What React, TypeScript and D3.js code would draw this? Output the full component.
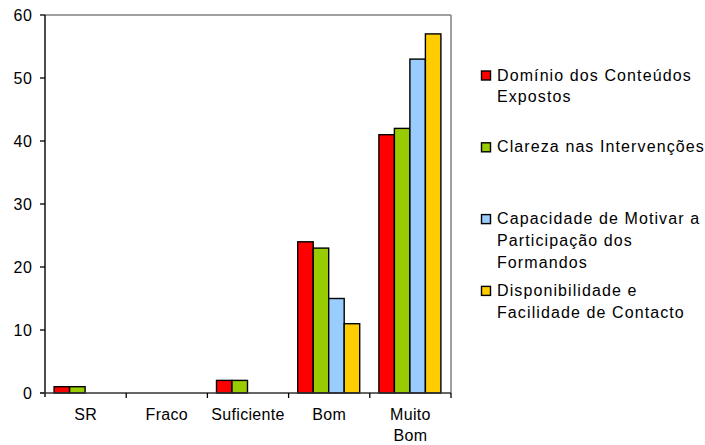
import React from "react";
import * as d3 from "d3";

const categories = ["SR", "Fraco", "Suficiente", "Bom", "Muito Bom"];
const seriesNames = [
  "Domínio dos Conteúdos Expostos",
  "Clareza nas Intervenções",
  "Capacidade de Motivar a Participação dos Formandos",
  "Disponibilidade e Facilidade de Contacto",
];
const legendLines = [
  ["Domínio dos Conteúdos", "Expostos"],
  ["Clareza nas Intervenções"],
  ["Capacidade de Motivar a", "Participação dos", "Formandos"],
  ["Disponibilidade e", "Facilidade de Contacto"],
];
const colors = ["#FF0000", "#99CC00", "#99CCFF", "#FFCC00"];
const dominio = [1, 0, 2, 24, 41];
const clareza = [1, 0, 2, 23, 42];
const capacidade = [0, 0, 0, 15, 53];
const disponibilidade = [0, 0, 0, 11, 57];
const values = [dominio, clareza, capacidade, disponibilidade];
const yTicks = [0, 10, 20, 30, 40, 50, 60];
const categoryLabels = [["SR"], ["Fraco"], ["Suficiente"], ["Bom"], ["Muito", "Bom"]];

const W = 705, H = 445;
const L = 45, R = 451, T = 15, B = 393;
const FONT = "'Liberation Sans', Arial, sans-serif";

export default function App() {
  const x0 = d3.scaleBand<string>().domain(categories).range([L, R]).padding(0);
  const bw = x0.bandwidth();
  const groupW = 62;
  const x1 = d3
    .scaleBand<string>()
    .domain(seriesNames)
    .range([(bw - groupW) / 2 - 0.5, (bw + groupW) / 2 - 0.5])
    .padding(0);
  const y = d3.scaleLinear().domain([0, 60]).range([B, T]);

  const bars: JSX.Element[] = [];
  values.forEach((arr, si) => {
    arr.forEach((v, ci) => {
      if (v <= 0) return;
      const x = (x0(categories[ci]) as number) + (x1(seriesNames[si]) as number);
      bars.push(
        <rect
          key={`${si}-${ci}`}
          x={x}
          y={y(v)}
          width={x1.bandwidth()}
          height={B - y(v)}
          fill={colors[si]}
          stroke="#000"
          strokeWidth={1.4}
        />
      );
    });
  });

  const legendX = 481;
  const legendBase0 = 80.5;
  const legendStep = 71.8;
  const lineH = 21.7;

  return (
    <svg width={W} height={H} style={{ position: "absolute", left: 0, top: 0 }}>
      <rect x={0} y={0} width={W} height={H} fill="#fff" />
      <line x1={L} y1={T} x2={R} y2={T} stroke="#808080" strokeWidth={1.5} />
      <line x1={R} y1={T} x2={R} y2={B} stroke="#808080" strokeWidth={1.5} />
      {bars}
      <line x1={L} y1={T} x2={L} y2={B + 4} stroke="#000" strokeWidth={1.4} />
      {yTicks.map((t) => (
        <g key={t}>
          <line x1={L - 5} y1={y(t)} x2={L} y2={y(t)} stroke="#000" strokeWidth={1.3} />
          <text
            x={32.5}
            y={y(t)}
            dy="0.36em"
            textAnchor="end"
            fontFamily={FONT}
            fontSize={16}
            letterSpacing={0.6}
            fill="#000"
          >
            {t}
          </text>
        </g>
      ))}
      <line x1={L - 5} y1={B} x2={R} y2={B} stroke="#333" strokeWidth={1.6} />
      {categories.map((c) => (
        <line
          key={c}
          x1={(x0(c) as number) + bw}
          y1={B}
          x2={(x0(c) as number) + bw}
          y2={B + 5}
          stroke="#000"
          strokeWidth={1.3}
        />
      ))}
      {categories.map((c, i) => (
        <text
          key={c}
          x={(x0(c) as number) + bw / 2}
          y={420}
          textAnchor="middle"
          fontFamily={FONT}
          fontSize={16}
          letterSpacing={0.3}
          fill="#000"
        >
          {categoryLabels[i].map((ln, k) => (
            <tspan key={k} x={(x0(c) as number) + bw / 2} dy={k === 0 ? 0 : 21}>
              {ln}
            </tspan>
          ))}
        </text>
      ))}
      {legendLines.map((lines, i) => {
        const base = legendBase0 + i * legendStep;
        return (
          <g key={i}>
            <rect
              x={legendX + 0.5}
              y={base - 9.5}
              width={9}
              height={9}
              fill={colors[i]}
              stroke="#000"
              strokeWidth={1.4}
            />
            <text
              x={497}
              y={base}
              fontFamily={FONT}
              fontSize={16}
              letterSpacing={1.1}
              fill="#000"
            >
              {lines.map((ln, k) => (
                <tspan key={k} x={497} dy={k === 0 ? 0 : lineH}>
                  {ln}
                </tspan>
              ))}
            </text>
          </g>
        );
      })}
    </svg>
  );
}
